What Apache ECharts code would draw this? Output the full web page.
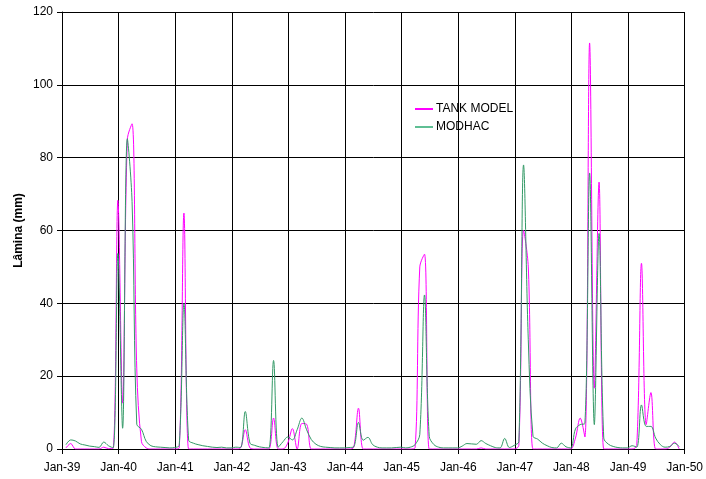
<!DOCTYPE html>
<html>
<head>
<meta charset="utf-8">
<script src="https://cdn.jsdelivr.net/npm/echarts@6/dist/echarts.min.js"></script>
<style>html,body{margin:0;padding:0;background:#fff}#c{width:706px;height:479px}</style>
</head>
<body>
<div id="c"></div>
<script>
// Monthly values starting Jan-39 (index 0) through Nov-49
const tankModel = [
  0.3, 1.5, 0, 0, 0, 0, 0, 0, 0.5, 0.1, 0.2, 68.3,
  12.6, 85, 89.3, 22, 2, 0.3, 0, 0, 0, 0, 0, 0,
  0.3, 64.8, 0, 0, 0, 0, 0, 0, 0, 0, 0, 0,
  0, 0.3, 5.3, 0.3, 0, 0, 0, 0, 8.5, 0, 0, 1.6,
  5.6, 0, 7.0, 6.8, 0, 0, 0, 0, 0, 0, 0, 0,
  0, 0.5, 11.2, 0, 0, 0, 0, 0, 0, 0, 0, 0,
  0, 0, 0.3, 50, 53.5, 0, 0, 0, 0, 0, 0, 0,
  0, 0, 0, 0, 0.3, 0, 0, 0, 0, 0, 0, 0,
  1, 60, 50, 0, 0, 0, 0, 0, 0, 0, 0, 0,
  3, 8.5, 3.3, 111.5, 16.7, 73.3, 0, 0, 0, 0, 0, 0,
  0, 1, 51, 6.7, 15.5, 0, 0, 0, 0.5, 1.9, 0
];
const modhac = [
  1.2, 2.5, 2.2, 1.4, 1.1, 0.8, 0.65, 0.45, 1.9, 0.9, 0.3, 53.7,
  5.7, 85.2, 68, 6.8, 5.4, 2.1, 0.9, 0.6, 0.5, 0.4, 0.3, 0.4,
  1.0, 40, 2.4, 1.6, 1.2, 0.9, 0.7, 0.5, 0.4, 0.5, 0.3, 0.3,
  0.5, 0.4, 10.3, 1.6, 1.0, 0.6, 0.4, 0.3, 24.3, 0.5, 2.0, 3.3,
  2.5, 5.3, 8.5, 5.3, 2.6, 1.3, 0.7, 0.5, 0.4, 0.3, 0.3, 0.3,
  0.4, 0.6, 7.3, 2.4, 3.2, 1.2, 0.5, 0.3, 0.3, 0.3, 0.4, 0.5,
  0.3, 0.5, 1.2, 4, 42.3, 3.5, 1.2, 0.5, 0.3, 0.3, 0.3, 0.3,
  0.8, 1.5, 1.4, 1.3, 2.3, 1.5, 0.9, 0.4, 0.3, 2.9, 0.4, 1.0,
  2, 78, 30, 3.5, 2.7, 1.6, 0.9, 0.4, 0.3, 1.6, 0.6, 0.3,
  5.5, 6.7, 7, 75.8, 6.7, 59.2, 3, 1.3, 0.7, 0.4, 0.3, 0.3,
  0.9, 0.5, 12.1, 6.2, 6.2, 3, 1.2, 0.5, 0.7, 1.6, 0.7
];
const yearLabels = ['Jan-39','Jan-40','Jan-41','Jan-42','Jan-43','Jan-44','Jan-45','Jan-46','Jan-47','Jan-48','Jan-49','Jan-50'];
const yTicks = [0, 20, 40, 60, 80, 100, 120];

const monthOffset = 0.85; // samples sit near month end
const toPoints = arr => arr.map((v, i) => [i + monthOffset, v]);

const chart = echarts.init(document.getElementById('c'), null, {renderer: 'canvas'});
const font = 'Liberation Sans, Arial, sans-serif';
chart.setOption({
  animation: false,
  backgroundColor: '#ffffff',
  grid: {left: 62, right: 21, top: 12, bottom: 30, containLabel: false},
  legend: {
    orient: 'vertical',
    left: 415,
    top: 103,
    padding: 0,
    itemGap: 6,
    itemWidth: 18,
    itemHeight: 2,
    textStyle: {fontFamily: font, fontSize: 12, color: '#000', padding: [0, 0, 0, -2]},
    data: [
      {name: 'TANK MODEL', icon: 'rect'},
      {name: 'MODHAC', icon: 'rect'}
    ]
  },
  xAxis: {
    type: 'value',
    min: 0,
    max: (yearLabels.length - 1) * 12,
    interval: 12,
    axisLine: {show: true, lineStyle: {color: '#000', width: 1}},
    axisTick: {show: true, inside: false, length: 5, lineStyle: {color: '#000'}},
    axisLabel: {
      margin: 13,
      fontFamily: font, fontSize: 12, color: '#000',
      formatter: v => yearLabels[Math.round(v / 12)]
    },
    splitLine: {show: true, lineStyle: {color: '#000', width: 1}}
  },
  yAxis: {
    type: 'value',
    min: yTicks[0],
    max: yTicks[yTicks.length - 1],
    interval: 20,
    name: 'Lâmina (mm)',
    nameLocation: 'middle',
    nameMoveOverlap: false,
    nameGap: 37,
    nameTextStyle: {fontFamily: font, fontSize: 12, fontWeight: 'bold', color: '#000'},
    axisLine: {show: true, lineStyle: {color: '#000', width: 1}},
    axisTick: {show: true, inside: false, length: 5, lineStyle: {color: '#000'}},
    axisLabel: {margin: 9, fontFamily: font, fontSize: 12, color: '#000'},
    splitLine: {show: true, lineStyle: {color: '#000', width: 1}}
  },
  series: [
    {
      name: 'TANK MODEL',
      type: 'line',
      data: toPoints(tankModel),
      smooth: 0.35,
      symbol: 'none',
      lineStyle: {color: '#ff00ff', width: 1},
      itemStyle: {color: '#ff00ff'},
      z: 2
    },
    {
      name: 'MODHAC',
      type: 'line',
      data: toPoints(modhac),
      smooth: 0.35,
      symbol: 'none',
      lineStyle: {color: '#339966', width: 1},
      itemStyle: {color: '#5fbf94'},
      z: 3
    }
  ]
});
</script>
</body>
</html>
